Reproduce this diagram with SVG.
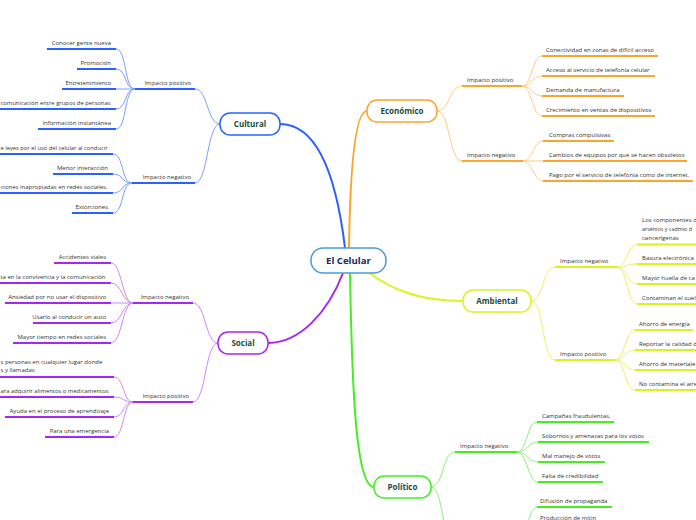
<svg xmlns="http://www.w3.org/2000/svg" width="696" height="520" viewBox="0 0 696 520">
<style>
text{font-family:"Open Sans","Noto Sans","Liberation Sans",sans-serif}
.leaf{font-size:6px;fill:#333}
.end{text-anchor:end}
.node{font-size:8px;font-weight:bold;fill:#1b4d3e;text-anchor:middle}
.nb{fill:#fff;stroke-width:1.5}
.c1{stroke:#2962ff}.c2{stroke:#f8a630}.c3{stroke:#d6f51e}.c4{stroke:#a626f5}.c5{stroke:#44ee22}
.ul{stroke-width:2;fill:none}
.cn{stroke-width:1;fill:none}
.l1{stroke:#7c9dff}.l2{stroke:#ffcd80}.l3{stroke:#e2f86a}.l4{stroke:#cf85ff}.l5{stroke:#8cf07a}
.main{fill:none;stroke-width:2}
</style>
<rect width="696" height="520" fill="#fff"/>
<g id="connectors">
  <path class="main c1" d="M280,124 C322,124 338,190 345,248"/>
  <path class="main c2" d="M367,111 C354,111 350,180 349,248"/>
  <path class="main c3" d="M368,272 C392,290 420,301 463,301"/>
  <path class="main c4" d="M343,273 C328,312 300,343 268,343"/>
  <path class="main c5" d="M350,273 C352,390 356,487 374,487"/>
  <path class="cn l1" d="M220,124 C207,124 208,89 195,89"/>
  <path class="cn l1" d="M220,124 C207,124 208,183 195,183"/>
  <path class="cn l2" d="M437,111 C450,111 449,86 462,86"/>
  <path class="cn l2" d="M437,111 C450,111 449,161 462,161"/>
  <path class="cn l3" d="M531,301 C544,301 542,267 555,267"/>
  <path class="cn l3" d="M531,301 C544,301 542,360 555,360"/>
  <path class="cn l4" d="M218,343 C205,343 206,303 193,303"/>
  <path class="cn l4" d="M218,343 C205,343 206,402 193,402"/>
  <path class="cn l5" d="M431,487 C444,487 442,452 455,452"/>
  <path class="cn l5" d="M431,487 C444,487 442,547 455,547"/>
  <path class="cn l1" d="M135,89 C124,89 127,49 116,49"/>
  <path class="cn l1" d="M135,89 C124,89 127,69 116,69"/>
  <path class="cn l1" d="M135,89 L116,89"/>
  <path class="cn l1" d="M135,89 C124,89 127,109 116,109"/>
  <path class="cn l1" d="M135,89 C124,89 127,129 116,129"/>
  <path class="cn l1" d="M132,183 C121,183 124,154 113,154"/>
  <path class="cn l1" d="M132,183 C121,183 124,174 113,174"/>
  <path class="cn l1" d="M132,183 C121,183 124,193 113,193"/>
  <path class="cn l1" d="M132,183 C121,183 124,213 113,213"/>
  <path class="cn l4" d="M133,303 C122,303 122,263 111,263"/>
  <path class="cn l4" d="M133,303 C122,303 122,283 111,283"/>
  <path class="cn l4" d="M133,303 L111,303"/>
  <path class="cn l4" d="M133,303 C122,303 122,323 111,323"/>
  <path class="cn l4" d="M133,303 C122,303 122,343 111,343"/>
  <path class="cn l4" d="M133,402 C123,402 124,377 114,377"/>
  <path class="cn l4" d="M133,402 C123,402 124,397 114,397"/>
  <path class="cn l4" d="M133,402 C123,402 124,417 114,417"/>
  <path class="cn l4" d="M133,402 C123,402 124,437 114,437"/>
  <path class="cn l2" d="M522,86 C532,86 532,56 542,56"/>
  <path class="cn l2" d="M522,86 C532,86 532,76 542,76"/>
  <path class="cn l2" d="M522,86 C532,86 532,96 542,96"/>
  <path class="cn l2" d="M522,86 C532,86 532,116 542,116"/>
  <path class="cn l2" d="M523,161 C533,161 533,141 543,141"/>
  <path class="cn l2" d="M523,161 L543,161"/>
  <path class="cn l2" d="M523,161 C533,161 533,181 543,181"/>
  <path class="cn l3" d="M617,267 C627,267 627,244.5 637,244.5"/>
  <path class="cn l3" d="M617,267 C627,267 627,264 637,264"/>
  <path class="cn l3" d="M617,267 C627,267 627,284 637,284"/>
  <path class="cn l3" d="M617,267 C627,267 627,304 637,304"/>
  <path class="cn l3" d="M615,360 C625,360 625,330 635,330"/>
  <path class="cn l3" d="M615,360 C625,360 625,350 635,350"/>
  <path class="cn l3" d="M615,360 C625,360 625,370 635,370"/>
  <path class="cn l3" d="M615,360 C625,360 625,390 635,390"/>
  <path class="cn l5" d="M517,452 C527,452 527,422 537,422"/>
  <path class="cn l5" d="M517,452 C527,452 528,442 538,442"/>
  <path class="cn l5" d="M517,452 C527,452 528,462 538,462"/>
  <path class="cn l5" d="M517,452 C527,452 528,482 538,482"/>
  <path class="cn l5" d="M517,547 C527,547 527,507 537,507"/>
  <path class="cn l5" d="M517,547 C527,547 527,527 537,527"/>
</g>

<g id="central">
  <rect x="311" y="248" width="75" height="25" rx="12" fill="#fbfdff" stroke="#4f9bd6" stroke-width="1.5"/>
  <text x="348.5" y="264" style="font-size:9.6px;font-weight:bold;fill:#1a2a5c;text-anchor:middle">El Celular</text>
</g>

<g id="cultural">
  <rect class="nb c1" x="220" y="113" width="60" height="22" rx="10"/>
  <text class="node" x="250" y="127">Cultural</text>
</g>
<g id="economico">
  <rect class="nb c2" x="367" y="100" width="70" height="22" rx="10"/>
  <text class="node" x="402" y="114">Económico</text>
</g>
<g id="ambiental">
  <rect class="nb c3" x="463" y="290" width="68" height="22" rx="10"/>
  <text class="node" x="497" y="304">Ambiental</text>
</g>
<g id="social">
  <rect class="nb c4" x="218" y="332" width="50" height="22" rx="10"/>
  <text class="node" x="243" y="346">Social</text>
</g>
<g id="politico">
  <rect class="nb c5" x="374" y="476" width="57" height="22" rx="10"/>
  <text class="node" x="402.5" y="490">Político</text>
</g>

<g id="cult-pos">
  <line class="ul c1" x1="135" y1="89" x2="195" y2="89"/>
  <text class="leaf end" x="191" y="84.5">Impacto positivo</text>
</g>
<g id="cult-neg">
  <line class="ul c1" x1="132" y1="183" x2="195" y2="183"/>
  <text class="leaf end" x="191" y="178.5">Impacto negativo</text>
</g>
<g id="cult-pos-1"><line class="ul c1" x1="47" y1="49" x2="116" y2="49"/><text class="leaf end" x="111" y="44.5">Conocer gente nueva</text></g>
<g id="cult-pos-2"><line class="ul c1" x1="77" y1="69" x2="116" y2="69"/><text class="leaf end" x="111" y="64.5">Promoción</text></g>
<g id="cult-pos-3"><line class="ul c1" x1="62" y1="89" x2="116" y2="89"/><text class="leaf end" x="111" y="84.5">Entretenimiento</text></g>
<g id="cult-pos-4"><line class="ul c1" x1="0" y1="109" x2="116" y2="109"/><text class="leaf" x="0.5" y="104.5" textLength="110" lengthAdjust="spacingAndGlyphs">comunicación entre grupos de personas</text></g>
<g id="cult-pos-5"><line class="ul c1" x1="38" y1="129" x2="116" y2="129"/><text class="leaf end" x="111" y="124.5">Información instantánea</text></g>
<g id="cult-neg-1"><line class="ul c1" x1="0" y1="154" x2="113" y2="154"/><text class="leaf" x="0.5" y="149.5" textLength="107" lengthAdjust="spacingAndGlyphs">e leyes por el uso del celular al conducir</text></g>
<g id="cult-neg-2"><line class="ul c1" x1="53" y1="174" x2="113" y2="174"/><text class="leaf end" x="108" y="169.5">Menor interacción</text></g>
<g id="cult-neg-3"><line class="ul c1" x1="0" y1="193" x2="113" y2="193"/><text class="leaf" x="0.5" y="188.5" textLength="107" lengthAdjust="spacingAndGlyphs">ciones inapropiadas en redes sociales.</text></g>
<g id="cult-neg-4"><line class="ul c1" x1="72" y1="213" x2="113" y2="213"/><text class="leaf end" x="108" y="208.5">Extorciones</text></g>

<g id="soc-neg">
  <line class="ul c4" x1="133" y1="303" x2="193" y2="303"/>
  <text class="leaf end" x="189" y="298.5">Impacto negativo</text>
</g>
<g id="soc-pos">
  <line class="ul c4" x1="133" y1="402" x2="193" y2="402"/>
  <text class="leaf end" x="189" y="397.5">Impacto positivo</text>
</g>
<g id="soc-neg-1"><line class="ul c4" x1="54" y1="263" x2="111" y2="263"/><text class="leaf end" x="106" y="258.5">Accidentes viales</text></g>
<g id="soc-neg-2"><line class="ul c4" x1="0" y1="283" x2="111" y2="283"/><text class="leaf" x="0.5" y="278.5" textLength="105" lengthAdjust="spacingAndGlyphs">ta en la convivencia y la comunicación</text></g>
<g id="soc-neg-3"><line class="ul c4" x1="5" y1="303" x2="111" y2="303"/><text class="leaf end" x="106" y="298.5">Ansiedad por no usar el dispositivo</text></g>
<g id="soc-neg-4"><line class="ul c4" x1="33" y1="323" x2="111" y2="323"/><text class="leaf end" x="106" y="318.5">Usarlo al conducir un auto</text></g>
<g id="soc-neg-5"><line class="ul c4" x1="13" y1="343" x2="111" y2="343"/><text class="leaf end" x="106" y="338.5">Mayor tiempo en redes sociales</text></g>
<g id="soc-pos-1"><line class="ul c4" x1="0" y1="377" x2="114" y2="377"/><text class="leaf" x="0.5" y="363.5">s personas en cualquier lugar donde</text><text class="leaf" x="0.5" y="372.2">s y llamadas</text></g>
<g id="soc-pos-2"><line class="ul c4" x1="0" y1="397" x2="114" y2="397"/><text class="leaf" x="0.5" y="392.5" textLength="108" lengthAdjust="spacingAndGlyphs">ara adquirir alimentos o medicamentos</text></g>
<g id="soc-pos-3"><line class="ul c4" x1="5" y1="417" x2="114" y2="417"/><text class="leaf end" x="109" y="412.5">Ayuda en el proceso de aprendizaje</text></g>
<g id="soc-pos-4"><line class="ul c4" x1="45" y1="437" x2="114" y2="437"/><text class="leaf end" x="109" y="432.5">Para una emergencia</text></g>

<g id="eco-pos">
  <line class="ul c2" x1="462" y1="86" x2="522" y2="86"/>
  <text class="leaf" x="467" y="81.5">Impacto positivo</text>
</g>
<g id="eco-neg">
  <line class="ul c2" x1="462" y1="161" x2="523" y2="161"/>
  <text class="leaf" x="467" y="156.5">Impacto negativo</text>
</g>
<g id="eco-pos-1"><line class="ul c2" x1="542" y1="56" x2="658" y2="56"/><text class="leaf" x="546" y="51.5">Conectividad en zonas de difícil acceso</text></g>
<g id="eco-pos-2"><line class="ul c2" x1="542" y1="76" x2="655" y2="76"/><text class="leaf" x="546" y="71.5">Acceso al servicio de telefonía celular</text></g>
<g id="eco-pos-3"><line class="ul c2" x1="542" y1="96" x2="624" y2="96"/><text class="leaf" x="546" y="91.5">Demanda de manufactura</text></g>
<g id="eco-pos-4"><line class="ul c2" x1="542" y1="116" x2="655" y2="116"/><text class="leaf" x="546" y="111.5">Crecimiento en ventas de dispositivos</text></g>
<g id="eco-neg-1"><line class="ul c2" x1="543" y1="141" x2="614" y2="141"/><text class="leaf" x="549" y="136.5">Compras compulsivas</text></g>
<g id="eco-neg-2"><line class="ul c2" x1="543" y1="161" x2="687" y2="161"/><text class="leaf" x="549" y="156.5">Cambios de equipos por que se hacen obsoletos</text></g>
<g id="eco-neg-3"><line class="ul c2" x1="543" y1="181" x2="693" y2="181"/><text class="leaf" x="549" y="176.5">Pago por el servicio de telefonía como de internet.</text></g>

<g id="amb-neg">
  <line class="ul c3" x1="555" y1="267" x2="617" y2="267"/>
  <text class="leaf" x="560" y="262.5">Impacto negativo</text>
</g>
<g id="amb-pos">
  <line class="ul c3" x1="555" y1="360" x2="615" y2="360"/>
  <text class="leaf" x="560" y="355.5">Impacto positivo</text>
</g>
<g id="amb-neg-1"><line class="ul c3" x1="637" y1="244.5" x2="696" y2="244.5"/><text class="leaf" x="642" y="222.3">Los componentes d</text><text class="leaf" x="642" y="231" textLength="50" lengthAdjust="spacingAndGlyphs">arsénico y cadmio d</text><text class="leaf" x="642" y="239.8">cancerígenas</text></g>
<g id="amb-neg-2"><line class="ul c3" x1="637" y1="264" x2="696" y2="264"/><text class="leaf" x="642" y="259.5">Basura electrónica</text></g>
<g id="amb-neg-3"><line class="ul c3" x1="637" y1="284" x2="696" y2="284"/><text class="leaf" x="642" y="279.5">Mayor huella de ca</text></g>
<g id="amb-neg-4"><line class="ul c3" x1="637" y1="304" x2="696" y2="304"/><text class="leaf" x="642" y="299.5">Contaminan el suel</text></g>
<g id="amb-pos-1"><line class="ul c3" x1="635" y1="330" x2="693" y2="330"/><text class="leaf" x="639" y="325.5">Ahorro de energía</text></g>
<g id="amb-pos-2"><line class="ul c3" x1="635" y1="350" x2="696" y2="350"/><text class="leaf" x="639" y="345.5">Reportar la calidad d</text></g>
<g id="amb-pos-3"><line class="ul c3" x1="635" y1="370" x2="696" y2="370"/><text class="leaf" x="639" y="365.5">Ahorro de materiale</text></g>
<g id="amb-pos-4"><line class="ul c3" x1="635" y1="390" x2="696" y2="390"/><text class="leaf" x="639" y="385.5">No contamina el aire</text></g>

<g id="pol-neg">
  <line class="ul c5" x1="455" y1="452" x2="517" y2="452"/>
  <text class="leaf" x="460" y="447.5">Impacto negativo</text>
</g>
<g id="pol-pos">
  <line class="ul c5" x1="455" y1="547" x2="517" y2="547"/>
</g>
<g id="pol-neg-1"><line class="ul c5" x1="537" y1="422" x2="614" y2="422"/><text class="leaf" x="542" y="417.5">Campañas fraudulentas.</text></g>
<g id="pol-neg-2"><line class="ul c5" x1="538" y1="442" x2="649" y2="442"/><text class="leaf" x="542" y="437.5">Sobornos y amenazas para los votos</text></g>
<g id="pol-neg-3"><line class="ul c5" x1="538" y1="462" x2="605" y2="462"/><text class="leaf" x="542" y="457.5">Mal manejo de votos</text></g>
<g id="pol-neg-4"><line class="ul c5" x1="538" y1="482" x2="603" y2="482"/><text class="leaf" x="542" y="477.5">Falta de credibilidad</text></g>
<g id="pol-pos-1"><line class="ul c5" x1="537" y1="507" x2="612" y2="507"/><text class="leaf" x="540" y="502.5">Difusión de propaganda</text></g>
<g id="pol-pos-2"><line class="ul c5" x1="537" y1="527" x2="620" y2="527"/><text class="leaf" x="540" y="519.5">Producción de mitin</text></g>
</svg>
